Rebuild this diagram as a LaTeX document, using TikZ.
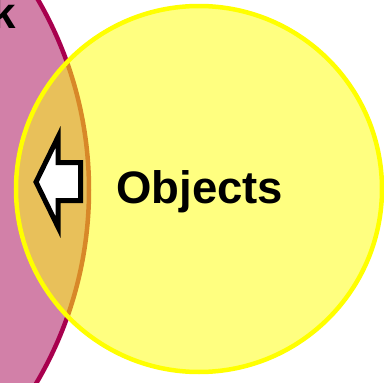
\documentclass[tikz,border=0pt]{standalone}
\usepackage{fontspec}
\setmainfont{Liberation Sans}
\definecolor{pinkfill}{RGB}{210,128,168}
\definecolor{pinkline}{RGB}{168,0,78}
\definecolor{yelfill}{RGB}{255,255,128}
\definecolor{yelline}{RGB}{255,255,0}
\definecolor{mixfill}{RGB}{232,192,90}
\definecolor{mixline}{RGB}{216,136,40}
\begin{document}
\begin{tikzpicture}[x=1pt,y=-1pt,
  label/.style={inner sep=0pt,font=\fontsize{45.5}{50}\selectfont\bfseries},
  blockarrow/.style={draw=black,fill=white,line width=5pt,miter limit=10}]
\useasboundingbox (0,0) rectangle (384,383);
\clip (0,0) rectangle (384,383);
% left set
\coordinate (pc) at (-291,190);
\coordinate (yc) at (199,189);
\fill[pinkfill] (pc) circle[radius=380];
\node[label,anchor=base west,font=\fontsize{44}{48}\selectfont\bfseries] (mark) at (-9,28) {k};
\draw[pinkline,line width=4.5pt] (pc) circle[radius=380];
% right set
\fill[yelfill] (yc) circle[radius=183];
\begin{scope}
  \clip (pc) circle[radius=380];
  \fill[mixfill] (yc) circle[radius=183];
\end{scope}
\begin{scope}
  \clip (yc) circle[radius=183];
  \draw[mixline,line width=4.5pt] (pc) circle[radius=380];
\end{scope}
\draw[yelline,line width=4.5pt] (yc) circle[radius=183];
% arrow pointing left into the left set
\draw[blockarrow] (36,182) -- (58,137) -- (58,162.5) -- (80.5,162.5)
  -- (80.5,200.5) -- (58,200.5) -- (58,227) -- cycle;
\node[label,anchor=base west] (objects) at (116,203) {Objects};
\end{tikzpicture}
\end{document}
